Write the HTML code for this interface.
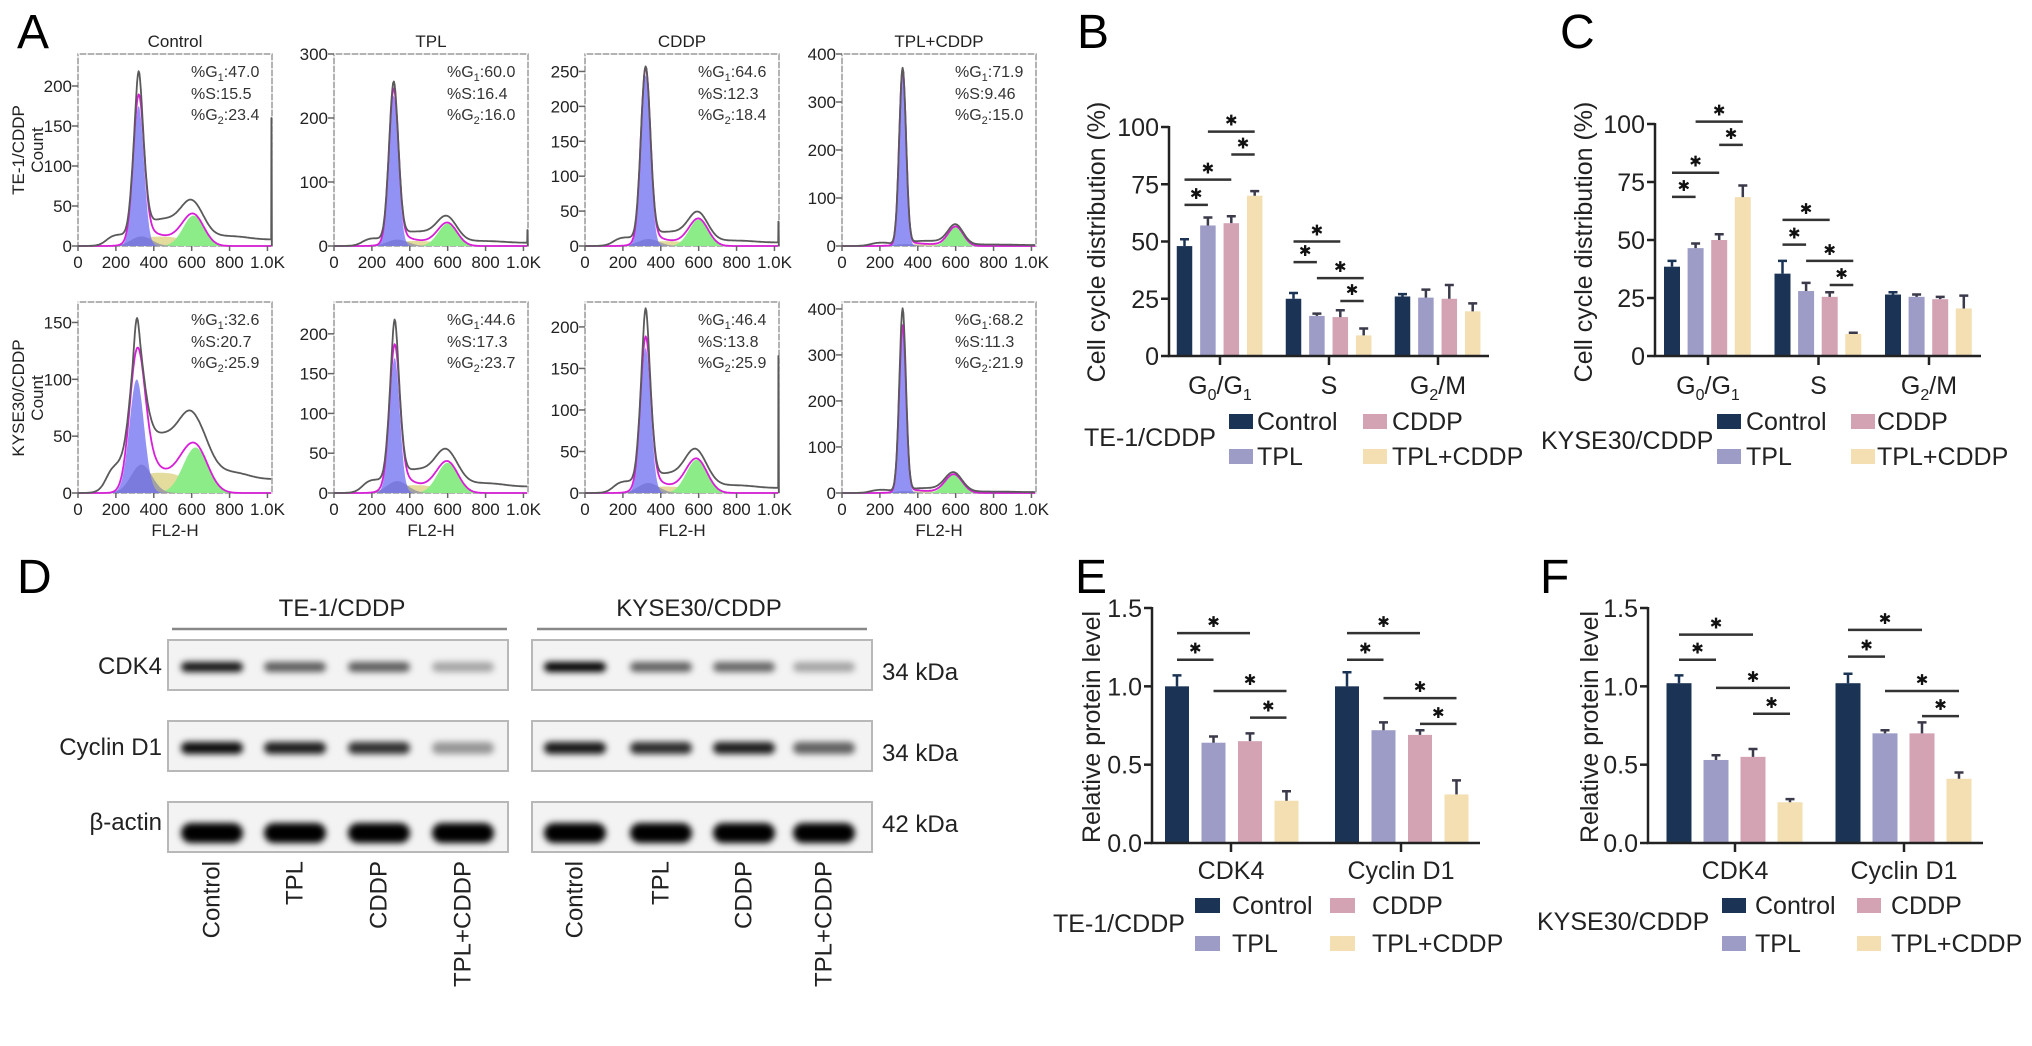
<!DOCTYPE html>
<html><head><meta charset="utf-8"><style>
html,body{margin:0;padding:0;background:#fff;}
svg{display:block;font-family:"Liberation Sans",Arial,sans-serif;}
</style></head><body>
<svg id="fig" width="2032" height="1046" viewBox="0 0 2032 1046" xmlns="http://www.w3.org/2000/svg">
<defs>
<filter id="blur" x="-20%" y="-100%" width="140%" height="300%"><feGaussianBlur stdDeviation="3.2"/></filter>
</defs>
</svg>
<script>
// ---------- Panel A histogram data ----------
const histTitles=['Control','TPL','CDDP','TPL+CDDP'];
const histYMax=[240,300,275,400,168,240,230,415];
const histYStep=[50,100,50,100,50,50,50,100];
const g1Height=[175,235,245,365,100,170,175,360];
const g1Mean=[320,315,320,320,310,320,320,320];
const g1Sd=[28,25,25,18,38,27,27,18];
const rawPeak=[215,255,250,370,150,215,220,400];
const g2Height=[38,35,38,40,40,38,40,40];
const g2Mean=[610,600,600,600,620,600,590,590];
const g2Sd=[55,50,50,40,65,55,55,45];
const sLevel=[12,8,7,4,18,10,8,4];
const debrisHeight=[12,10,10,4,25,15,12,4];
const tailLevel=[8,5,5,2,12,8,6,2];
const endSpike=[160,25,35,0,0,0,165,0];
const pctG1=['47.0','60.0','64.6','71.9','32.6','44.6','46.4','68.2'];
const pctS=['15.5','16.4','12.3','9.46','20.7','17.3','13.8','11.3'];
const pctG2=['23.4','16.0','18.4','15.0','25.9','23.7','25.9','21.9'];
const histXTicks=[0,200,400,600,800,1000];
const histXTickLabels=['0','200','400','600','800','1.0K'];

// ---------- Panel B / C data (cell cycle %) ----------
const cycleCats=['G0/G1','S','G2/M'];
const bControl=[48,25,26];   const bControlErr=[3,2.5,1];
const bTPL=[57,17.5,25.5];   const bTPLErr=[3.5,1,3.5];
const bCDDP=[58,17,25];      const bCDDPErr=[3,3,6];
const bCombo=[70,9,19.5];    const bComboErr=[2,3,3.5];
const bSig=[[0,0,1,66],[0,0,2,77],[0,2,3,88],[0,1,3,98],[1,0,1,41],[1,0,2,50],[1,1,3,34],[1,2,3,24]];
const cControl=[38.5,35.5,26.5]; const cControlErr=[2.5,5.5,1];
const cTPL=[46.5,28,25.5];       const cTPLErr=[2,3.5,1];
const cCDDP=[50,25.5,24.5];      const cCDDPErr=[2.5,2,1];
const cCombo=[68.5,9.5,20.5];    const cComboErr=[5,0.5,5.5];
const cSig=[[0,0,1,68.6],[0,0,2,79],[0,2,3,91],[0,1,3,101],[1,0,1,48],[1,0,2,58.7],[1,1,3,41],[1,2,3,30.6]];
const cycleTicks=[0,25,50,75,100];

// ---------- Panel E / F data (protein level) ----------
const protCats=['CDK4','Cyclin D1'];
const eControl=[1.0,1.0];   const eControlErr=[0.07,0.09];
const eTPL=[0.64,0.72];     const eTPLErr=[0.04,0.05];
const eCDDP=[0.65,0.69];    const eCDDPErr=[0.05,0.03];
const eCombo=[0.27,0.31];   const eComboErr=[0.06,0.09];
const eSig=[[0,0,1,1.17],[0,0,2,1.34],[0,1,3,0.97],[0,2,3,0.80],[1,0,1,1.17],[1,0,2,1.34],[1,1,3,0.925],[1,2,3,0.76]];
const fControl=[1.02,1.02]; const fControlErr=[0.05,0.06];
const fTPL=[0.53,0.70];     const fTPLErr=[0.03,0.02];
const fCDDP=[0.55,0.70];    const fCDDPErr=[0.05,0.07];
const fCombo=[0.26,0.41];   const fComboErr=[0.02,0.04];
const fSig=[[0,0,1,1.17],[0,0,2,1.33],[0,1,3,0.99],[0,2,3,0.825],[1,0,1,1.19],[1,0,2,1.36],[1,1,3,0.97],[1,2,3,0.81]];
const protTicks=[0,0.5,1.0,1.5];
const protTickLabels=['0.0','0.5','1.0','1.5'];

// ---------- Panel D blot intensities ----------
const laneNames=['Control','TPL','CDDP','TPL+CDDP'];
const teCDK4=[0.92,0.62,0.62,0.32];
const teCyclin=[0.95,0.88,0.8,0.38];
const teActin=[1,1,1,1];
const kyCDK4=[1,0.6,0.58,0.32];
const kyCyclin=[0.9,0.82,0.88,0.6];
const kyActin=[1,1,1,1];

const groupNames=['Control','TPL','CDDP','TPL+CDDP'];
const barColors=['#1b3456','#9d9cc6','#d3a3b4','#f3dfb2'];

const NS='http://www.w3.org/2000/svg';
const svg=document.getElementById('fig');
function mk(tag,attrs,parent){const n=document.createElementNS(NS,tag);for(const k in attrs)n.setAttribute(k,attrs[k]);(parent||svg).appendChild(n);return n;}
function txt(str,attrs,parent){const n=mk('text',attrs,parent);n.textContent=str;return n;}

// ---------- panel letters ----------
[['A',17,48],['B',1077,48],['C',1560,48],['D',17,593],['E',1075,593],['F',1540,593]].forEach(p=>{
  const t=txt(p[0],{x:p[1],y:p[2],'font-size':48,fill:'#000'});
  
  
});

// ---------- Panel A ----------
const boxX=[78,334,585,842];
const boxW=194;
const rowTop=[54,302];
const rowBot=[246,493];
function sig(v){return 1/(1+Math.exp(-v));}
for(let i=0;i<8;i++){
  const r=Math.floor(i/4), c=i%4;
  const x0=boxX[c], y0=rowTop[r], yb=rowBot[r];
  const g=mk('g',{});
  
  
  const sx=v=>x0+v/1024*boxW;
  const sy=v=>yb-v/histYMax[i]*(yb-y0);
  const fr=mk('rect',{x:x0,y:y0,width:boxW,height:yb-y0,fill:'none',stroke:'#9a9a9a','stroke-width':1.5},g);
  
  
  mk('rect',{x:x0,y:y0,width:boxW,height:yb-y0,fill:'none',stroke:'#fff','stroke-width':1,'stroke-dasharray':'2 6'},g);
  const G1=[],G2=[],S=[],D=[],FIT=[],RAW=[];
  for(let ch=0;ch<=1020;ch+=4){
    const a=g1Height[i]*Math.exp(-0.5*Math.pow((ch-g1Mean[i])/g1Sd[i],2));
    const b=g2Height[i]*Math.exp(-0.5*Math.pow((ch-g2Mean[i])/g2Sd[i],2));
    const s=sLevel[i]*sig((ch-g1Mean[i]-20)/18)*sig((g2Mean[i]-40-ch)/30);
    const d=debrisHeight[i]*Math.exp(-0.5*Math.pow((ch-335)/55,2));
    const f=a+b+s+d;
    const fitPeak=g1Height[i]+debrisHeight[i];
    const extra=Math.max(0,rawPeak[i]-fitPeak)*Math.exp(-0.5*Math.pow((ch-g1Mean[i])/12,2));
    const shoulder=(debrisHeight[i]*0.9+4)*sig((ch-150)/20)*sig((g1Mean[i]-60-ch)/20);
    const plateau=sLevel[i]*1.2*sig((ch-g1Mean[i]-60)/15)*sig((g2Mean[i]-ch)/25);
    const tail=tailLevel[i]*sig((ch-420)/20)+tailLevel[i]*0.6*sig((ch-640)/20)*sig((900-ch)/40);
    let raw=f+extra+shoulder+tail+plateau;
    G1.push([ch,a]);G2.push([ch,b]);S.push([ch,s]);D.push([ch,d]);FIT.push([ch,f]);RAW.push([ch,Math.min(raw,histYMax[i])]);
  }
  if(endSpike[i]>0){RAW.push([1021,endSpike[i]]);RAW.push([1023,0]);}
  const area=(pts,fill,name)=>{
    let dstr='M'+sx(pts[0][0])+','+sy(0);
    pts.forEach(p=>{dstr+=' L'+sx(p[0]).toFixed(1)+','+sy(p[1]).toFixed(1);});
    dstr+=' L'+sx(pts[pts.length-1][0])+','+sy(0)+' Z';
    const p=mk('path',{d:dstr,fill:fill,stroke:'none'},g);
    
    
  };
  area(S,'#e3dc9c','s-phase-fill');
  area(G2,'#8cec88','g2-fill');
  area(D,'#a2a2a2','debris-fill');
  area(G1,'rgba(110,110,240,0.75)','g1-fill');
  const line=(pts,col,w,name)=>{
    let dstr='';
    pts.forEach((p,k)=>{dstr+=(k?' L':'M')+sx(p[0]).toFixed(1)+','+sy(p[1]).toFixed(1);});
    const p=mk('path',{d:dstr,fill:'none',stroke:col,'stroke-width':w,'stroke-linejoin':'round'},g);
    
    
  };
  line(FIT,'#d81ed8',1.8,'model-fit-line');
  line(RAW,'#5a5a5a',1.8,'raw-data-line');
  for(let v=0;v<=histYMax[i];v+=histYStep[i]){
    mk('line',{x1:x0-6,x2:x0,y1:sy(v),y2:sy(v),stroke:'#666','stroke-width':1.5},g);
    const t=txt(String(v),{x:x0-6,y:sy(v)+6,'font-size':17,'text-anchor':'end',fill:'#222'},g);
    
    
  }
  histXTicks.forEach((v,k)=>{
    mk('line',{x1:sx(v),x2:sx(v),y1:yb,y2:yb+5,stroke:'#666','stroke-width':1.5},g);
    const t=txt(histXTickLabels[k],{x:sx(v),y:yb+22,'font-size':17,'text-anchor':'middle',fill:'#222'},g);
    
    
  });
  const ax=x0+113, ay=y0+23;
  const a1=txt('',{x:ax,y:ay,'font-size':16,fill:'#333'},g);
  a1.innerHTML='%G<tspan font-size="11" dy="4">1</tspan><tspan dy="-4">:'+pctG1[i]+'</tspan>';
  
  
  const a2=txt('%S:'+pctS[i],{x:ax,y:ay+22,'font-size':16,fill:'#333'},g);
  
  
  const a3=txt('',{x:ax,y:ay+43,'font-size':16,fill:'#333'},g);
  a3.innerHTML='%G<tspan font-size="11" dy="4">2</tspan><tspan dy="-4">:'+pctG2[i]+'</tspan>';
  
  
  if(r===0){
    const t=txt(histTitles[c],{x:x0+boxW/2,y:47,'font-size':17,'text-anchor':'middle',fill:'#222'},g);
    
    
  } else {
    const t=txt('FL2-H',{x:x0+boxW/2,y:536,'font-size':17,'text-anchor':'middle',fill:'#222'},g);
    
    
  }
}
[['TE-1/CDDP',150],['KYSE30/CDDP',398]].forEach((p,k)=>{
  const t=txt(p[0],{x:0,y:0,'font-size':17,'text-anchor':'middle',fill:'#222',transform:'translate(24,'+p[1]+') rotate(-90)'});
  
  
  const t2=txt('Count',{x:0,y:0,'font-size':17,'text-anchor':'middle',fill:'#222',transform:'translate(43,'+p[1]+') rotate(-90)'});
  
  
});

// ---------- bar charts ----------
function barChart(cfg){
  const g=mk('g',{});
  
  
  const sy=v=>cfg.y0-(v-0)/cfg.vmax*(cfg.y0-cfg.yTop);
  const bx=(gi,si)=>cfg.g0+gi*cfg.gStep+cfg.off+si*cfg.pitch;
  const series=[cfg.vals0,cfg.vals1,cfg.vals2,cfg.vals3];
  const errs=[cfg.err0,cfg.err1,cfg.err2,cfg.err3];
  series.forEach((vals,si)=>{
    vals.forEach((v,gi)=>{
      const cx=bx(gi,si);
      const b=mk('rect',{x:cx-cfg.bw/2,y:sy(v),width:cfg.bw,height:cfg.y0-sy(v),fill:barColors[si]},g);
      
      
      const e=errs[si][gi];
      const col=si===0?'#1b3456':'#3a3a4a';
      const el=mk('path',{d:'M'+cx+','+sy(v)+' V'+sy(v+e)+' M'+(cx-4.5)+','+sy(v+e)+' H'+(cx+4.5),stroke:col,'stroke-width':2.5,fill:'none'},g);
      
      
    });
  });
  cfg.sig.forEach(s=>{
    const x1=bx(s[0],s[1]), x2=bx(s[0],s[2]), y=sy(s[3]);
    const l=mk('line',{x1:x1,x2:x2,y1:y,y2:y,stroke:'#333','stroke-width':2.5},g);
    
    
    const st=txt('✱',{x:(x1+x2)/2,y:y-6,'font-size':15,'text-anchor':'middle',fill:'#111','font-family':'DejaVu Sans,sans-serif'},g);
    
    
  });
  const ya=mk('line',{x1:cfg.ax,x2:cfg.ax,y1:cfg.yTop-1,y2:cfg.y0,stroke:'#222','stroke-width':2.5},g);
  
  
  const xa=mk('line',{x1:cfg.ax-1,x2:cfg.xEnd,y1:cfg.y0,y2:cfg.y0,stroke:'#222','stroke-width':2.5},g);
  
  
  cfg.ticks.forEach((v,k)=>{
    mk('line',{x1:cfg.ax-8,x2:cfg.ax,y1:sy(v),y2:sy(v),stroke:'#222','stroke-width':2.5},g);
    const t=txt(cfg.tickLabels[k],{x:cfg.ax-10,y:sy(v)+9,'font-size':25,'text-anchor':'end',fill:'#222'},g);
    
    
  });
  cfg.cats.forEach((c,gi)=>{
    const cx=cfg.g0+gi*cfg.gStep;
    mk('line',{x1:cx,x2:cx,y1:cfg.y0,y2:cfg.y0+9,stroke:'#222','stroke-width':2.5},g);
    const t=txt('',{x:cx,y:cfg.catY,'font-size':25,'text-anchor':'middle',fill:'#222'},g);
    if(c==='G0/G1') t.innerHTML='G<tspan font-size="16" dy="6">0</tspan><tspan dy="-6">/G</tspan><tspan font-size="16" dy="6">1</tspan>';
    else if(c==='G2/M') t.innerHTML='G<tspan font-size="16" dy="6">2</tspan><tspan dy="-6">/M</tspan>';
    else t.textContent=c;
    
    
  });
  const yt=txt(cfg.yTitle,{x:0,y:0,'font-size':25,'text-anchor':'middle',fill:'#222',transform:'translate('+cfg.ytX+','+cfg.ytY+') rotate(-90)','dominant-baseline':'central'},g);
  
  
  const lt=txt(cfg.legTitle,{x:cfg.legTX,y:cfg.legTY+9,'font-size':25,fill:'#222'},g);
  
  
  groupNames.forEach((n,si)=>{
    const col=si<2?0:1, row=si%2;
    const sqx=cfg.legSqX[col], ty=cfg.legRowY[row];
    const sq=mk('rect',{x:sqx,y:ty-7,width:cfg.sqW,height:15,fill:barColors[si]},g);
    
    
    const t=txt(n,{x:cfg.legTxtX[col],y:ty+9,'font-size':25,fill:'#222'},g);
    
    
  });
}
barChart({name:'chart-b-te1-cell-cycle',ax:1169,xEnd:1489,y0:356,yTop:127,vmax:100,g0:1220,gStep:109,off:-35.5,pitch:23.4,bw:15.5,
  vals0:bControl,vals1:bTPL,vals2:bCDDP,vals3:bCombo,err0:bControlErr,err1:bTPLErr,err2:bCDDPErr,err3:bComboErr,sig:bSig,
  ticks:cycleTicks,tickLabels:cycleTicks.map(String),cats:cycleCats,catY:394,yTitle:'Cell cycle distribution (%)',ytX:1097,ytY:242,
  legTitle:'TE-1/CDDP',legTX:1084,legTY:437,legSqX:[1229,1363],legTxtX:[1257,1392],legRowY:[421,456],sqW:24});
barChart({name:'chart-c-kyse30-cell-cycle',ax:1655,xEnd:1981,y0:356,yTop:124,vmax:100,g0:1708,gStep:110.5,off:-36,pitch:23.6,bw:16,
  vals0:cControl,vals1:cTPL,vals2:cCDDP,vals3:cCombo,err0:cControlErr,err1:cTPLErr,err2:cCDDPErr,err3:cComboErr,sig:cSig,
  ticks:cycleTicks,tickLabels:cycleTicks.map(String),cats:cycleCats,catY:394,yTitle:'Cell cycle distribution (%)',ytX:1584,ytY:242,
  legTitle:'KYSE30/CDDP',legTX:1541,legTY:440,legSqX:[1717,1851],legTxtX:[1746,1877],legRowY:[421,456],sqW:24});
barChart({name:'chart-e-te1-protein',ax:1152,xEnd:1480,y0:843,yTop:608,vmax:1.5,g0:1231,gStep:170,off:-54,pitch:36.5,bw:24,
  vals0:eControl,vals1:eTPL,vals2:eCDDP,vals3:eCombo,err0:eControlErr,err1:eTPLErr,err2:eCDDPErr,err3:eComboErr,sig:eSig,
  ticks:protTicks,tickLabels:protTickLabels,cats:protCats,catY:879,yTitle:'Relative protein level',ytX:1092,ytY:727,
  legTitle:'TE-1/CDDP',legTX:1053,legTY:923,legSqX:[1195,1330],legTxtX:[1232,1372],legRowY:[905,943],sqW:25});
barChart({name:'chart-f-kyse30-protein',ax:1648,xEnd:1983,y0:843,yTop:608,vmax:1.5,g0:1735,gStep:169,off:-56,pitch:37,bw:25,
  vals0:fControl,vals1:fTPL,vals2:fCDDP,vals3:fCombo,err0:fControlErr,err1:fTPLErr,err2:fCDDPErr,err3:fComboErr,sig:fSig,
  ticks:protTicks,tickLabels:protTickLabels,cats:protCats,catY:879,yTitle:'Relative protein level',ytX:1590,ytY:727,
  legTitle:'KYSE30/CDDP',legTX:1537,legTY:921,legSqX:[1722,1857],legTxtX:[1755,1891],legRowY:[905,943],sqW:24});

// ---------- Panel D western blot ----------
const blotBoxX=[168,532];
const blotW=340;
const blotRowTop=[640,721,802];
const blotH=50;
const laneX=[[212,295,379,463],[575,661,744,824]];
const blotSets=[[teCDK4,teCyclin,teActin],[kyCDK4,kyCyclin,kyActin]];
const bandH=[10,12,20];
const bandYOff=[27,27,31];
const rowNames=['CDK4','Cyclin D1','β-actin'];
const kdaLabels=['34 kDa','34 kDa','42 kDa'];
[['TE-1/CDDP',342,172,507],['KYSE30/CDDP',699,537,867]].forEach((h,k)=>{
  const t=txt(h[0],{x:h[1],y:616,'font-size':24,'text-anchor':'middle',fill:'#222'});
  
  
  const l=mk('line',{x1:h[2],x2:h[3],y1:629,y2:629,stroke:'#888','stroke-width':2.5});
  
  
});
for(let s=0;s<2;s++){
  for(let r=0;r<3;r++){
    const g=mk('g',{});
    
    
    const bx=mk('rect',{x:blotBoxX[s],y:blotRowTop[r],width:blotW,height:blotH,fill:'#f3f3f3',stroke:'#b8b8b8','stroke-width':2},g);
    
    
    blotSets[s][r].forEach((v,li)=>{
      const cy=blotRowTop[r]+bandYOff[r];
      const bd=mk('rect',{x:laneX[s][li]-31,y:cy-bandH[r]/2,width:62,height:bandH[r],rx:bandH[r]/2,fill:'#000','fill-opacity':v,filter:'url(#blur)'},g);
      
      
    });
  }
}
rowNames.forEach((n,r)=>{
  const t=txt(n,{x:162,y:blotRowTop[r]+(r===2?28:34),'font-size':24,'text-anchor':'end',fill:'#222'});
  
  
  const k=txt(kdaLabels[r],{x:882,y:blotRowTop[r]+(r===2?30:40),'font-size':24,fill:'#222'});
  
  
});
laneX.forEach((arr,s)=>arr.forEach((x,li)=>{
  const t=txt(laneNames[li],{x:0,y:0,'font-size':24,'text-anchor':'end','dominant-baseline':'central',fill:'#222',transform:'translate('+x+',861) rotate(-90)'});
  
  
}));
</script>
</body></html>
